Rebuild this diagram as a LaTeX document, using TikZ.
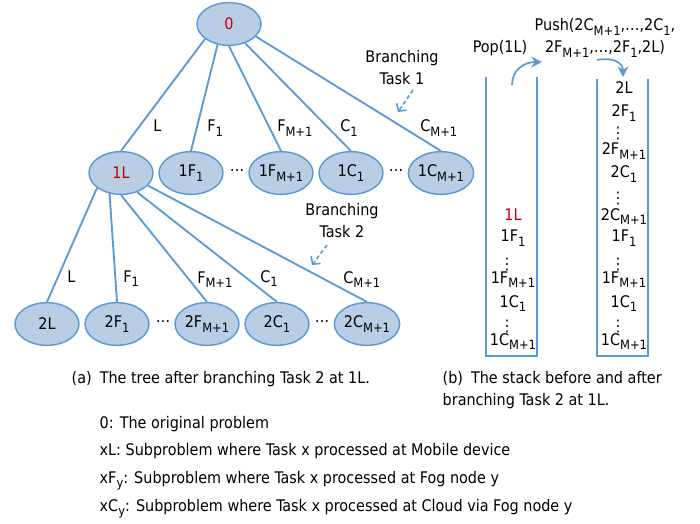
\documentclass[tikz,border=0pt]{standalone}
\usepackage{fontspec}
\setmainfont{DejaVu Sans Condensed}
\usetikzlibrary{arrows.meta,shapes.geometric}
\definecolor{nodeblue}{RGB}{185,205,229}
\definecolor{lineblue}{RGB}{91,155,213}
\definecolor{darkred}{RGB}{192,0,0}
\newcommand{\sub}[1]{\raisebox{-0.3em}{\fontsize{9.6}{10}\selectfont #1}}
\newcommand{\vd}{⋮}

\begin{document}
\begin{tikzpicture}[x=0.75pt,y=-0.75pt,
        font=\fontsize{12}{16.5}\selectfont,
        treenode/.style={ellipse, draw=lineblue, fill=nodeblue, line width=1.1pt,
          minimum width=48pt, minimum height=32pt, inner sep=0pt},
        branch/.style={draw=lineblue, line width=1.4pt},
        elabel/.style={anchor=base west, inner sep=0pt},
        stackline/.style={draw=lineblue, line width=1.5pt},
        stackitem/.style={anchor=base, inner sep=0pt},
        hint/.style={draw=lineblue, line width=1.2pt, dash pattern=on 3pt off 2pt,
          -{Straight Barb[length=4pt,width=9pt]}},
        move/.style={draw=lineblue, line width=1.3pt, -{Stealth[length=8pt,width=8pt]}}]
        \useasboundingbox (0,0) rectangle (700,524);

        % the tree
        \node[treenode] (root) at (229,24) {\textcolor{darkred}{0}};
        \node[treenode] (oneL) at (121,173) {\textcolor{darkred}{1L}};
        \node[treenode] (oneFa) at (191,173) {1F\sub{1}};
        \node[treenode] (oneFm) at (281,173) {1F\sub{M+1}};
        \node[treenode] (oneCa) at (351,173) {1C\sub{1}};
        \node[treenode] (oneCm) at (441,173) {1C\sub{M+1}};
        \node[treenode] (twoL) at (47,324) {2L};
        \node[treenode] (twoFa) at (117,324) {2F\sub{1}};
        \node[treenode] (twoFm) at (207,324) {2F\sub{M+1}};
        \node[treenode] (twoCa) at (277,324) {2C\sub{1}};
        \node[treenode] (twoCm) at (367,324) {2C\sub{M+1}};
        \node (dotsA) at (237,173) {⋯};
        \node (dotsB) at (396,173) {⋯};
        \node (dotsC) at (163,324) {⋯};
        \node (dotsD) at (322,324) {⋯};

        \foreach \child/\ang in {oneL/212, oneFa/241, oneFm/270, oneCa/310, oneCm/335}
          \draw[branch] (root.\ang) -- (\child.north);
        \foreach \child/\ang in {twoL/212, twoFa/241, twoFm/270, twoCa/310, twoCm/335}
          \draw[branch] (oneL.\ang) -- (\child.north);

        \node[elabel] (labL) at (153,132) {L};
        \node[elabel] (labFa) at (207,132) {F\sub{1}};
        \node[elabel] (labFm) at (277,132) {F\sub{M+1}};
        \node[elabel] (labCa) at (340,132) {C\sub{1}};
        \node[elabel] (labCm) at (420,132) {C\sub{M+1}};
        \node[elabel] (lab2L) at (67,282) {L};
        \node[elabel] (lab2Fa) at (123,282) {F\sub{1}};
        \node[elabel] (lab2Fm) at (197,283) {F\sub{M+1}};
        \node[elabel] (lab2Ca) at (260,282) {C\sub{1}};
        \node[elabel] (lab2Cm) at (343,283) {C\sub{M+1}};

        \node[align=center] (taskone) at (402,68) {Branching\\Task 1};
        \node[align=center] (tasktwo) at (342,221) {Branching\\Task 2};
        \coordinate (hintoneS) at (413,90);
        \coordinate (hintoneE) at (398,112);
        \coordinate (hinttwoS) at (327,245);
        \coordinate (hinttwoE) at (312,265);
        \draw[hint] (hintoneS) -- (hintoneE);
        \draw[hint] (hinttwoS) -- (hinttwoE);

        % the stacks
        \draw[stackline] (486,77) -- (486,356) -- (537,356) -- (537,77);
        \draw[stackline] (597,79) -- (597,356) -- (648,356) -- (648,79);
        \foreach \txt/\xx/\yy [count=\i] in {\textcolor{darkred}{1L}/513/221, 1F\sub{1}/513/242,
            \vd/507/269, 1F\sub{M+1}/513/283, 1C\sub{1}/513/307, \vd/507/331, 1C\sub{M+1}/513/345}
          \node[stackitem] (before\i) at (\xx,\yy) {\txt};
        \foreach \txt/\xx/\yy [count=\i] in {2L/624/94, 2F\sub{1}/624/117, \vd/618/139,
            2F\sub{M+1}/624/155, 2C\sub{1}/624/178, \vd/618/204, 2C\sub{M+1}/624/220,
            1F\sub{1}/624/242, \vd/618/269, 1F\sub{M+1}/624/283, 1C\sub{1}/624/307,
            \vd/618/331, 1C\sub{M+1}/624/345}
          \node[stackitem] (after\i) at (\xx,\yy) {\txt};

        \node[anchor=base] (pop) at (500,53) {Pop(1L)};
        \node[align=center] (push) at (605,38) {Push(2C\sub{M+1},\dots,2C\sub{1},\\2F\sub{M+1},\dots,2F\sub{1},2L)};
        \coordinate (popS) at (512,85);
        \coordinate (popE) at (542,62);
        \coordinate (pushS) at (597,60);
        \coordinate (pushE) at (623,77);
        \draw[move] (popS) .. controls (512,70) and (524,62) .. (popE);
        \draw[move] (pushS) .. controls (612,57) and (623,62) .. (pushE);

        % captions and legend
        \node[anchor=base west] (capa) at (67,383) {(a)\hspace{0.5em}The tree after branching Task 2 at 1L.};
        \node[anchor=west, align=left] (capb) at (438,390) {(b)\hspace{0.5em}The stack before and after\\branching Task 2 at 1L.};
        \foreach \txt/\yy [count=\i] in {0: The original problem/428,
            xL: Subproblem where Task x processed at Mobile device/455,
            xF\sub{y}: Subproblem where Task x processed at Fog node y/483,
            xC\sub{y}: Subproblem where Task x processed at Cloud via Fog node y/511}
          \node[anchor=base west] (legend\i) at (95,\yy) {\txt};
\end{tikzpicture}
\end{document}
